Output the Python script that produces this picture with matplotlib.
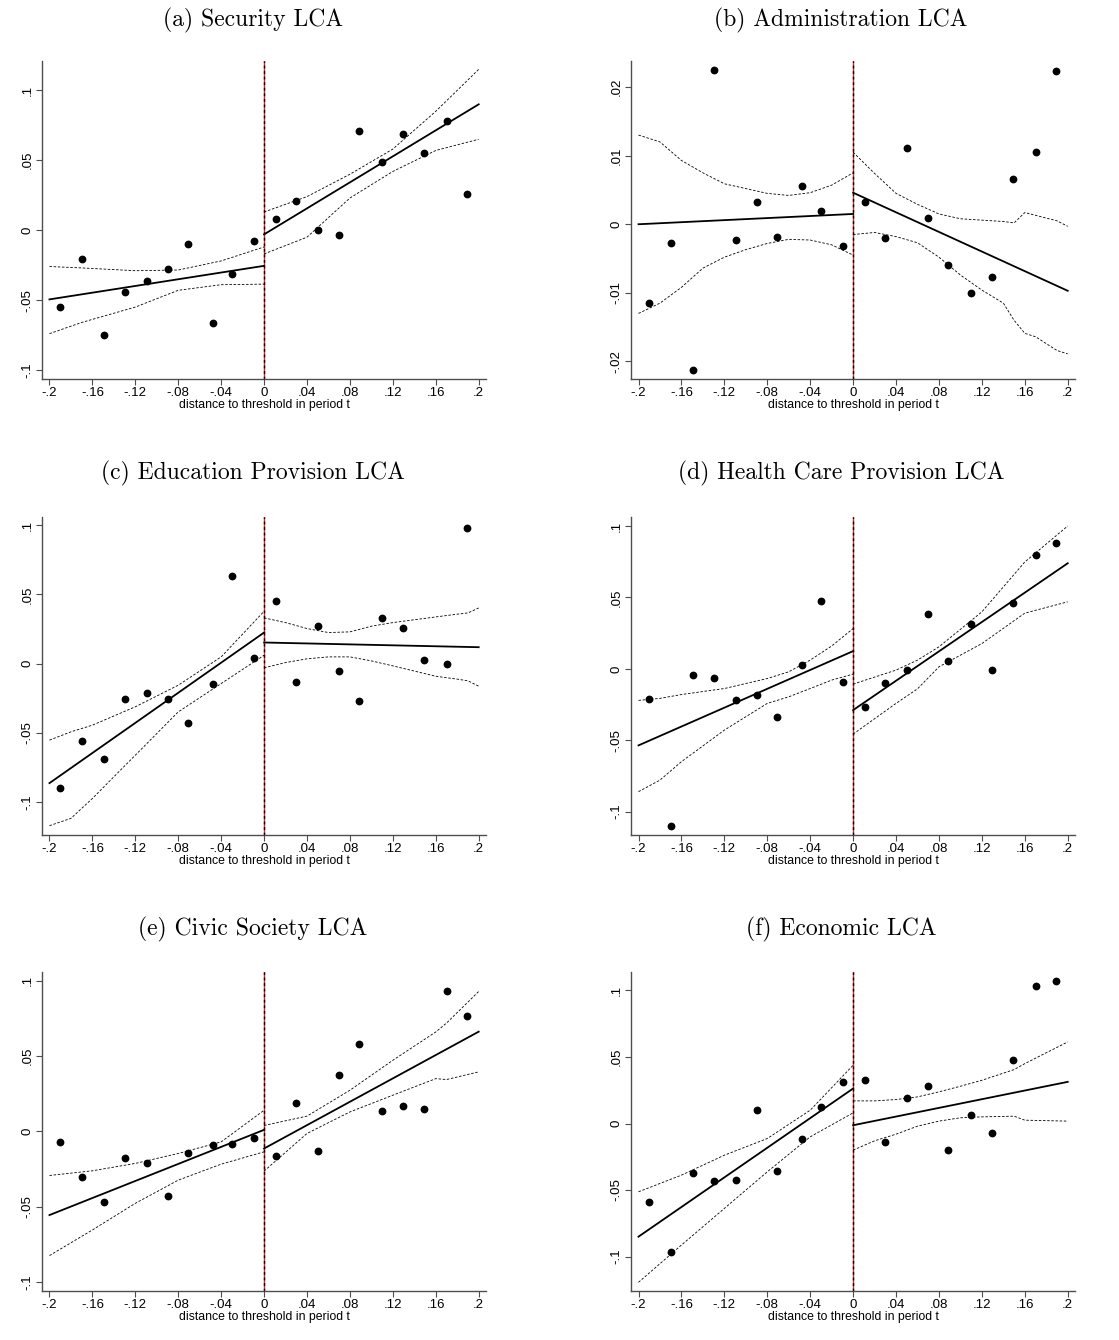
import matplotlib
matplotlib.use("Agg")
import matplotlib.pyplot as plt
from matplotlib.ticker import FuncFormatter, FixedLocator

# bin midpoints (distance to threshold), shared by all panels
bin_x = [-0.19, -0.17, -0.149, -0.13, -0.109, -0.09, -0.071, -0.048, -0.03, -0.009,
         0.011, 0.03, 0.05, 0.07, 0.088, 0.11, 0.129, 0.149, 0.17, 0.189]

titles = ["(a) Security LCA", "(b) Administration LCA", "(c) Education Provision LCA",
          "(d) Health Care Provision LCA", "(e) Civic Society LCA", "(f) Economic LCA"]

# binned means
sec_y = [-0.0548, -0.0205, -0.075, -0.044, -0.036, -0.028, -0.0102, -0.0662, -0.0314, -0.0081,
         0.0079, 0.0207, -0.0002, -0.0038, 0.0707, 0.0488, 0.0688, 0.055, 0.0779, 0.0257]
adm_y = [-0.0115, -0.0027, -0.0213, 0.0225, -0.0023, 0.0032, -0.0019, 0.0056, 0.0020, -0.0032,
         0.0033, -0.0020, 0.0111, 0.0009, -0.0060, -0.0100, -0.0077, 0.0066, 0.0105, 0.0223]
edu_y = [-0.0899, -0.0564, -0.0694, -0.0255, -0.0214, -0.0255, -0.0431, -0.0149, 0.0634, 0.0039,
         0.0453, -0.0133, 0.0275, -0.0053, -0.0272, 0.0328, 0.026, 0.0027, -0.0007, 0.0981]
hea_y = [-0.0214, -0.110, -0.0044, -0.0063, -0.0221, -0.0182, -0.034, 0.0026, 0.0473, -0.0091,
         -0.0268, -0.0098, -0.0007, 0.0387, 0.0058, 0.0317, -0.0007, 0.0462, 0.0795, 0.0881]
civ_y = [-0.0073, -0.0305, -0.0469, -0.0175, -0.0212, -0.0427, -0.0144, -0.0091, -0.0082, -0.0046,
         -0.0164, 0.0188, -0.0128, 0.0376, 0.0583, 0.0137, 0.0172, 0.0152, 0.093, 0.0765]
eco_y = [-0.0588, -0.0963, -0.0373, -0.0433, -0.0428, 0.010, -0.036, -0.0115, 0.0125, 0.0315,
         0.033, -0.0138, 0.0193, 0.028, -0.020, 0.0063, -0.007, 0.0475, 0.1035, 0.1073]

# linear fits: value at -.2 and 0 (left), at 0 and .2 (right)
sec_fit = [(-0.0495, -0.0255), (-0.003, 0.090)]
adm_fit = [(0.0000, 0.0015), (0.0046, -0.0097)]
edu_fit = [(-0.0865, 0.0224), (0.0152, 0.0118)]
hea_fit = [(-0.0536, 0.0124), (-0.0289, 0.0739)]
civ_fit = [(-0.0555, 0.0011), (-0.0113, 0.0663)]
eco_fit = [(-0.085, 0.0263), (-0.0013, 0.0313)]

# 95% confidence bands, left side
sec_ci_lx = [-0.2, -0.17, -0.12, -0.08, -0.04, 0.0]
sec_ci_lu = [-0.026, -0.027, -0.029, -0.0285, -0.022, -0.012]
sec_ci_ll = [-0.074, -0.066, -0.055, -0.043, -0.039, -0.0386]
adm_ci_lx = [-0.2, -0.18, -0.16, -0.14, -0.12, -0.10, -0.08, -0.06, -0.04, -0.02, 0.0]
adm_ci_lu = [0.0130, 0.0120, 0.0093, 0.0075, 0.0059, 0.0052, 0.0045, 0.0042, 0.0046, 0.0057, 0.0075]
adm_ci_ll = [-0.0130, -0.0115, -0.0092, -0.0064, -0.0048, -0.0037, -0.0028, -0.0022, -0.0023, -0.0030, -0.0045]
edu_ci_lx = [-0.2, -0.18, -0.16, -0.12, -0.08, -0.04, 0.0]
edu_ci_lu = [-0.0554, -0.0494, -0.0446, -0.0313, -0.0157, 0.0048, 0.0378]
edu_ci_ll = [-0.1173, -0.112, -0.0976, -0.0663, -0.035, -0.0145, 0.006]
hea_ci_lx = [-0.2, -0.18, -0.16, -0.12, -0.08, -0.06, -0.04, -0.02, 0.0]
hea_ci_lu = [-0.0221, -0.0207, -0.018, -0.0138, -0.0068, -0.0021, 0.0061, 0.016, 0.0282]
hea_ci_ll = [-0.086, -0.0779, -0.065, -0.0429, -0.0242, -0.0196, -0.0138, -0.0079, -0.0037]
civ_ci_lx = [-0.2, -0.16, -0.12, -0.08, -0.04, 0.0]
civ_ci_lu = [-0.0292, -0.0261, -0.0212, -0.0146, -0.0069, 0.0141]
civ_ci_ll = [-0.0824, -0.0654, -0.0477, -0.0323, -0.0217, -0.0135]
eco_ci_lx = [-0.2, -0.16, -0.12, -0.08, -0.04, 0.0]
eco_ci_lu = [-0.0513, -0.0388, -0.0238, -0.0113, 0.010, 0.0438]
eco_ci_ll = [-0.1193, -0.0913, -0.0638, -0.0363, -0.010, 0.008]

# 95% confidence bands, right side
sec_ci_rx = [0.0, 0.04, 0.08, 0.12, 0.16, 0.2]
sec_ci_ru = [0.013, 0.024, 0.040, 0.058, 0.085, 0.115]
sec_ci_rl = [-0.017, -0.005, 0.023, 0.042, 0.057, 0.065]
adm_ci_rx = [0.0, 0.02, 0.04, 0.06, 0.08, 0.10, 0.12, 0.14, 0.15, 0.16, 0.17, 0.19, 0.2]
adm_ci_ru = [0.0105, 0.0074, 0.0045, 0.0029, 0.0015, 0.0008, 0.0006, 0.0004, 0.0002, 0.0017, 0.0013, 0.0005, -0.0003]
adm_ci_rl = [-0.0015, -0.0012, -0.0018, -0.0027, -0.0048, -0.0074, -0.0096, -0.0115, -0.0140, -0.0159, -0.0164, -0.0184, -0.0189]
edu_ci_rx = [0.0, 0.02, 0.04, 0.06, 0.08, 0.10, 0.12, 0.16, 0.18, 0.19, 0.2]
edu_ci_ru = [0.033, 0.0296, 0.0253, 0.0224, 0.0229, 0.027, 0.0296, 0.0337, 0.0357, 0.0366, 0.0402]
edu_ci_rl = [-0.0031, 0.0007, 0.0034, 0.0048, 0.0048, 0.0019, -0.0017, -0.0092, -0.0113, -0.0125, -0.0164]
hea_ci_rx = [0.0, 0.04, 0.06, 0.08, 0.12, 0.16, 0.2]
hea_ci_ru = [-0.0107, -0.0009, 0.0061, 0.0154, 0.0399, 0.0748, 0.100]
hea_ci_rl = [-0.0457, -0.0242, -0.014, 0.0014, 0.0177, 0.039, 0.0469]
civ_ci_rx = [0.0, 0.04, 0.08, 0.12, 0.16, 0.17, 0.2]
civ_ci_ru = [0.004, 0.0102, 0.0274, 0.0473, 0.0661, 0.072, 0.093]
civ_ci_rl = [-0.0263, -0.0013, 0.013, 0.0241, 0.0351, 0.0345, 0.0396]
eco_ci_rx = [0.0, 0.02, 0.04, 0.06, 0.08, 0.10, 0.12, 0.15, 0.16, 0.2]
eco_ci_ru = [0.017, 0.017, 0.018, 0.020, 0.0238, 0.028, 0.0325, 0.0405, 0.045, 0.0613]
eco_ci_rl = [-0.020, -0.013, -0.008, -0.002, 0.0018, 0.0043, 0.005, 0.0055, 0.0025, 0.0018]

y_ticks = [[-0.1, -0.05, 0, 0.05, 0.1], [-0.02, -0.01, 0, 0.01, 0.02]]
x_ticks = [-0.2, -0.16, -0.12, -0.08, -0.04, 0, 0.04, 0.08, 0.12, 0.16, 0.2]

plt.rcParams["font.family"] = ["Liberation Sans", "DejaVu Sans"]


def stata_fmt(v, pos=None):
    if abs(v) < 1e-12:
        return "0"
    s = ("%.3f" % v).rstrip("0")
    return s.replace("0.", ".")


def draw_panel(ax, ys, fit, ci_left, ci_right, ylim, yt):
    fl, fr = fit
    ax.axvline(0, color="#d62728", linewidth=1.0, zorder=1)
    ax.axvline(0, color="black", linewidth=1.0, linestyle=(0, (2, 2)), zorder=1.1)
    for cx, cu, cl in (ci_left, ci_right):
        ax.plot(cx, cu, color="black", linewidth=0.6, linestyle=(0, (3, 2)), zorder=2)
        ax.plot(cx, cl, color="black", linewidth=0.6, linestyle=(0, (3, 2)), zorder=2)
    ax.plot([-0.2, 0], fl, color="black", linewidth=1.3, zorder=3)
    ax.plot([0, 0.2], fr, color="black", linewidth=1.3, zorder=3)
    ax.plot(bin_x, ys, linestyle="", marker="o", color="black", markersize=4.6, zorder=4)

    ax.set_xlim(-0.207, 0.207)
    ax.set_ylim(*ylim)
    ax.xaxis.set_major_locator(FixedLocator(x_ticks))
    ax.yaxis.set_major_locator(FixedLocator(yt))
    ax.xaxis.set_major_formatter(FuncFormatter(stata_fmt))
    ax.yaxis.set_major_formatter(FuncFormatter(stata_fmt))
    ax.tick_params(axis="both", direction="out", length=4, width=0.8, color="0.3",
                   labelsize=9.5, pad=2)
    ax.tick_params(axis="y", labelrotation=90)
    for lab in ax.get_yticklabels():
        lab.set_va("center")
    for side in ("top", "right"):
        ax.spines[side].set_visible(False)
    for side in ("left", "bottom"):
        ax.spines[side].set_color("0.3")
        ax.spines[side].set_linewidth(1.0)
    ax.set_xlabel("distance to threshold in period t", fontsize=8.8, labelpad=0)


fig = plt.figure(figsize=(11.19, 13.40), dpi=100)

col_left = [0.0375, 0.5639]
col_w = 0.397
row_bottom = [0.7172, 0.3769, 0.0366]
row_h = [0.2373, 0.2373, 0.238]
title_y = [0.985, 0.647, 0.3067]
title_x = [0.226, 0.7516]

panels = [
    (sec_y, sec_fit, (sec_ci_lx, sec_ci_lu, sec_ci_ll), (sec_ci_rx, sec_ci_ru, sec_ci_rl), (-0.1064, 0.121), y_ticks[0]),
    (adm_y, adm_fit, (adm_ci_lx, adm_ci_lu, adm_ci_ll), (adm_ci_rx, adm_ci_ru, adm_ci_rl), (-0.02255, 0.0238), y_ticks[1]),
    (edu_y, edu_fit, (edu_ci_lx, edu_ci_lu, edu_ci_ll), (edu_ci_rx, edu_ci_ru, edu_ci_rl), (-0.124, 0.106), y_ticks[0]),
    (hea_y, hea_fit, (hea_ci_lx, hea_ci_lu, hea_ci_ll), (hea_ci_rx, hea_ci_ru, hea_ci_rl), (-0.1163, 0.1063), y_ticks[0]),
    (civ_y, civ_fit, (civ_ci_lx, civ_ci_lu, civ_ci_ll), (civ_ci_rx, civ_ci_ru, civ_ci_rl), (-0.1059, 0.1059), y_ticks[0]),
    (eco_y, eco_fit, (eco_ci_lx, eco_ci_lu, eco_ci_ll), (eco_ci_rx, eco_ci_ru, eco_ci_rl), (-0.1258, 0.1138), y_ticks[0]),
]

for i, (ys, fit, cil, cir, ylim, yt) in enumerate(panels):
    r, c = divmod(i, 2)
    ax = fig.add_axes([col_left[c], row_bottom[r], col_w, row_h[r]])
    draw_panel(ax, ys, fit, cil, cir, ylim, yt)
    fig.text(title_x[c], title_y[r], titles[i], ha="center", va="center",
             fontsize=17, family=["cmr10", "DejaVu Serif"])

fig.savefig("out.png", dpi=100)
plt.close(fig)
